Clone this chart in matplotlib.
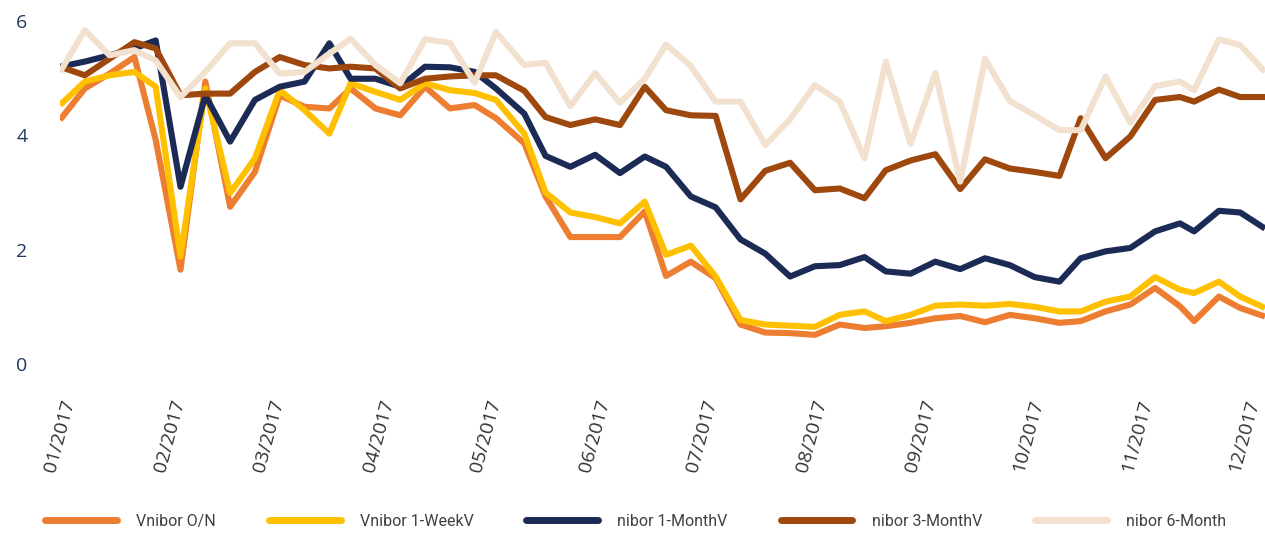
import matplotlib
matplotlib.use("Agg")
import matplotlib.pyplot as plt
import pandas as pd

dates = ["2017-01-03", "2017-01-10", "2017-01-17", "2017-01-24", "2017-01-30",
         "2017-02-06", "2017-02-13", "2017-02-20", "2017-02-27", "2017-03-06",
         "2017-03-13", "2017-03-20", "2017-03-26", "2017-04-02", "2017-04-09",
         "2017-04-16", "2017-04-23", "2017-04-30", "2017-05-06", "2017-05-14",
         "2017-05-20", "2017-05-27", "2017-06-03", "2017-06-10", "2017-06-17",
         "2017-06-23", "2017-06-30", "2017-07-07", "2017-07-14", "2017-07-21",
         "2017-07-28", "2017-08-04", "2017-08-11", "2017-08-18", "2017-08-24",
         "2017-08-31", "2017-09-07", "2017-09-14", "2017-09-21", "2017-09-28",
         "2017-10-05", "2017-10-12", "2017-10-18", "2017-10-25", "2017-11-01",
         "2017-11-08", "2017-11-15", "2017-11-19", "2017-11-26", "2017-12-02",
         "2017-12-09"]

vnibor_on = [4.27, 4.82, 5.08, 5.37, 3.92, 1.65, 4.94, 2.75, 3.36, 4.70,
             4.50, 4.47, 4.82, 4.47, 4.35, 4.85, 4.47, 4.53, 4.30, 3.86,
             2.93, 2.22, 2.22, 2.22, 2.67, 1.54, 1.79, 1.50, 0.69, 0.55,
             0.54, 0.51, 0.69, 0.63, 0.66, 0.72, 0.80, 0.84, 0.73, 0.86,
             0.80, 0.72, 0.75, 0.92, 1.04, 1.33, 1.01, 0.75, 1.18, 0.98, 0.83]

vnibor_1w = [4.53, 4.94, 5.05, 5.11, 4.85, 1.88, 4.82, 2.99, 3.60, 4.79,
             4.44, 4.03, 4.91, 4.76, 4.62, 4.91, 4.79, 4.74, 4.62, 4.03,
             3.00, 2.65, 2.57, 2.46, 2.84, 1.91, 2.07, 1.53, 0.77, 0.69,
             0.67, 0.65, 0.86, 0.92, 0.75, 0.86, 1.02, 1.04, 1.02, 1.05,
             1.00, 0.92, 0.92, 1.09, 1.18, 1.52, 1.30, 1.24, 1.44, 1.18, 0.98]

vnibor_1m = [5.20, 5.29, 5.40, 5.52, 5.66, 3.10, 4.70, 3.89, 4.62, 4.85,
             4.94, 5.61, 4.99, 4.99, 4.85, 5.20, 5.19, 5.11, 4.82, 4.38,
             3.64, 3.45, 3.66, 3.34, 3.63, 3.45, 2.93, 2.74, 2.18, 1.93,
             1.53, 1.71, 1.73, 1.87, 1.62, 1.58, 1.79, 1.66, 1.85, 1.73,
             1.52, 1.44, 1.85, 1.97, 2.03, 2.32, 2.46, 2.32, 2.68, 2.65, 2.37]

vnibor_3m = [5.20, 5.05, 5.34, 5.63, 5.52, 4.70, 4.73, 4.73, 5.11, 5.37,
             5.23, 5.17, 5.20, 5.17, 4.82, 4.99, 5.03, 5.05, 5.05, 4.78,
             4.32, 4.18, 4.28, 4.18, 4.85, 4.44, 4.35, 4.34, 2.88, 3.38,
             3.52, 3.04, 3.07, 2.90, 3.39, 3.56, 3.67, 3.06, 3.58, 3.42,
             3.36, 3.29, 4.30, 3.60, 3.98, 4.62, 4.67, 4.59, 4.80, 4.67, 4.67]

vnibor_6m = [5.11, 5.84, 5.40, 5.49, 5.31, 4.67, 5.11, 5.61, 5.61, 5.08,
             5.11, 5.43, 5.69, 5.23, 4.91, 5.68, 5.62, 4.92, 5.81, 5.23,
             5.27, 4.51, 5.09, 4.57, 4.99, 5.59, 5.21, 4.59, 4.59, 3.83,
             4.28, 4.88, 4.59, 3.60, 5.29, 3.85, 5.09, 3.19, 5.34, 4.60,
             4.35, 4.09, 4.09, 5.03, 4.22, 4.86, 4.94, 4.79, 5.68, 5.58, 5.11]

series_names = ["Vnibor O/N", "Vnibor 1-WeekV", "nibor 1-MonthV",
                "nibor 3-MonthV", "nibor 6-Month"]
series_values = [vnibor_on, vnibor_1w, vnibor_1m, vnibor_3m, vnibor_6m]
colors = ["#ED7D31", "#FFC000", "#1C2A56", "#9E480E", "#F3E1D0"]

y_ticks = [0, 2, 4, 6]

x = pd.to_datetime(dates)

fig = plt.figure(figsize=(12.65, 5.33), dpi=100)
ax = fig.add_axes([60 / 1265, 169 / 533, 1205 / 1265, 343 / 533])

for name, vals, c in zip(series_names, series_values, colors):
    ax.plot(x, vals, color=c, lw=4.4, label=name,
            solid_joinstyle="round", solid_capstyle="butt")

ax.set_xlim(x[0], x[-1])
ax.set_ylim(0, 6)
ax.set_yticks(y_ticks)
ax.set_yticklabels([str(v) for v in y_ticks], fontsize=14,
                   color="#1F3864", family="Open Sans")

month_ticks = pd.date_range(start=x[0], periods=12, freq=pd.DateOffset(months=1))
ax.set_xticks(month_ticks)
ax.set_xticklabels([d.strftime("%m/%Y") for d in month_ticks],
                   rotation=75, ha="center", va="top", fontsize=14,
                   color="#333333", family="Open Sans")

ax.tick_params(axis="y", length=0, pad=23.5)
ax.tick_params(axis="x", length=0, pad=24)
for s in ax.spines.values():
    s.set_visible(False)

leg = fig.legend(loc="center", bbox_to_anchor=(0.5024, 0.022), ncol=5,
                 frameon=False, handlelength=4.5, handletextpad=1.2,
                 columnspacing=3.3, prop={"family": "Roboto", "size": 11.5})
for line in leg.get_lines():
    line.set_linewidth(5)
    line.set_solid_capstyle("round")
for t in leg.get_texts():
    t.set_color("#404040")

fig.savefig("out.png", dpi=100)
